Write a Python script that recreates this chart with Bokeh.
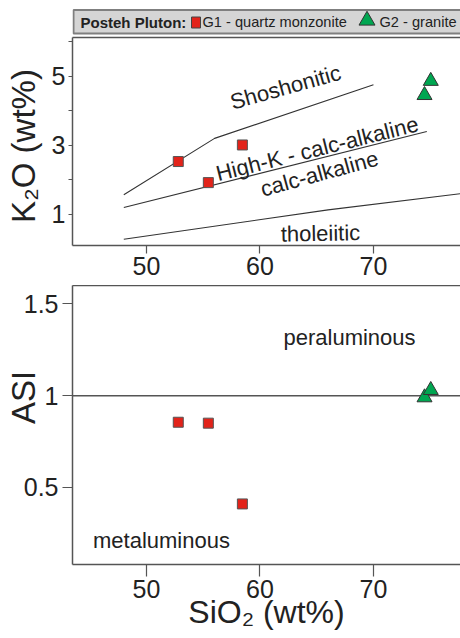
import math
from bokeh.plotting import figure
from bokeh.layouts import column
from bokeh.models import Range1d, FixedTicker, LinearAxis, NumeralTickFormatter
from bokeh.embed import file_html
from bokeh.resources import INLINE
from bokeh.core.properties import value

# ---------------- data ----------------
g1_sio2 = [52.8, 55.45, 58.45]
g1_k2o = [2.53, 1.92, 3.01]
g1_asi = [0.855, 0.85, 0.41]

g2_sio2 = [74.5, 75.05]
g2_k2o = [4.45, 4.86]
g2_asi = [0.99, 1.03]

# boundary lines (Peccerillo & Taylor)
shosh_x = [48, 56, 70]
shosh_y = [1.57, 3.2, 4.75]
highk_x = [48, 74.7]
highk_y = [1.2, 3.4]
thol_x = [48, 66, 77.7]
thol_y = [0.28, 1.13, 1.6]
asi_line = 1.0

x_ticks = [50, 60, 70]
k2o_ticks = [1, 3, 5]
k2o_minor = [2, 4, 6]
asi_ticks = [0.5, 1, 1.5]

FONT = "Liberation Sans"
TXT = "#222222"
FRAME = "#555555"
RED = "#e2231a"
GREEN = "#00a651"

X0, X1 = 43.48, 77.67

# ---------------- legend band ----------------
leg = figure(width=460, height=36, x_range=Range1d(72, 460), y_range=Range1d(36, 0),
             toolbar_location=None, output_backend="svg",
             min_border_left=72, min_border_right=0, min_border_top=0, min_border_bottom=0,
             x_axis_location=None, y_axis_location=None)
leg.grid.visible = False
leg.outline_line_color = None
leg.quad(left=73, right=470, top=9.5, bottom=33, fill_color="#d5d5d5",
         line_color="#7f7f7f", line_width=2)
leg.text(x=[80], y=[21.5], text=["Posteh Pluton:"], text_font=value(FONT),
         text_font_style="bold", text_font_size="15px", text_baseline="middle",
         text_color=TXT)
leg.rect(x=[195.5], y=[22], width=9, height=11, fill_color=RED, line_color="#444444", line_width=1)
leg.text(x=[202], y=[21.5], text=["G1 - quartz monzonite"], text_font=value(FONT),
         text_font_size="14.6px", text_baseline="middle", text_color=TXT)
leg.scatter(x=[366.5], y=[20], marker="triangle", size=16, fill_color=GREEN,
            line_color="#333333", line_width=1)
leg.text(x=[379], y=[21.5], text=["G2 - granite"], text_font=value(FONT),
         text_font_size="14.6px", text_baseline="middle", text_color=TXT)


def style_axes(p):
    p.grid.visible = False
    p.outline_line_color = None
    p.background_fill_color = "white"
    p.border_fill_color = "white"
    xa, ya = p.below[0], p.left[0]
    for ax in (xa, ya):
        ax.axis_line_color = FRAME
        ax.axis_line_width = 1.5
        ax.major_tick_line_color = FRAME
        ax.major_tick_line_width = 1.2
        ax.major_tick_in = 0
        ax.minor_tick_in = 0
        ax.minor_tick_out = 0
        ax.major_label_text_font = FONT
        ax.major_label_text_font_size = "25px"
        ax.major_label_text_color = TXT
        ax.axis_label_text_font = FONT
        ax.axis_label_text_font_style = "normal"
        ax.axis_label_text_color = TXT
    top = LinearAxis(ticker=FixedTicker(ticks=[]), axis_line_color=FRAME, axis_line_width=1.5,
                     major_tick_out=0, major_tick_in=0, minor_tick_out=0, minor_tick_in=0,
                     major_label_standoff=0, axis_label_standoff=0)
    p.add_layout(top, "above")
    return xa, ya


# ---------------- top panel: K2O vs SiO2 ----------------
p1 = figure(width=460, height=249, x_range=Range1d(X0, X1), y_range=Range1d(0.10, 6.12),
            toolbar_location=None, output_backend="svg",
            min_border_left=72, min_border_right=0, min_border_top=1, min_border_bottom=40)
xa1, ya1 = style_axes(p1)
xa1.ticker = FixedTicker(ticks=x_ticks)
xa1.major_tick_out = 8
xa1.major_label_standoff = 3
ya1.ticker = FixedTicker(ticks=k2o_ticks, minor_ticks=k2o_minor)
ya1.major_tick_out = 4
ya1.minor_tick_out = 4
ya1.minor_tick_line_color = FRAME
ya1.minor_tick_line_width = 1.2
ya1.major_label_standoff = 3
ya1.axis_label = "K₂O  (wt%)"
ya1.axis_label_text_font_size = "33px"
ya1.axis_label_standoff = 7

line_kw = dict(line_color="#333333", line_width=1.1)
p1.line(shosh_x, shosh_y, **line_kw)
p1.line(highk_x, highk_y, **line_kw)
p1.line(thol_x, thol_y, **line_kw)

region_kw = dict(text_font=value(FONT), text_font_size="22px", text_color=TXT,
                 text_align="center", text_baseline="middle")
p1.text(x=[62.25], y=[4.68], text=["Shoshonitic"], angle=0.27, **region_kw)
p1.text(x=[65.04], y=[2.90], text=["High-K - calc-alkaline"], angle=0.245, **region_kw)
p1.text(x=[65.24], y=[2.18], text=["calc-alkaline"], angle=0.265, **region_kw)
p1.text(x=[65.33], y=[0.45], text=["tholeiitic"], angle=0.02, **region_kw)

p1.scatter(g1_sio2, g1_k2o, marker="square", size=10, fill_color=RED,
           line_color="#555555", line_width=1)
p1.scatter(g2_sio2, g2_k2o, marker="triangle", size=15, fill_color=GREEN,
           line_color="#333333", line_width=1)

# ---------------- bottom panel: ASI vs SiO2 ----------------
p2 = figure(width=460, height=353, x_range=Range1d(X0, X1), y_range=Range1d(0.08, 1.6),
            toolbar_location=None, output_backend="svg",
            min_border_left=72, min_border_right=0, min_border_top=0, min_border_bottom=74)
xa2, ya2 = style_axes(p2)
xa2.ticker = FixedTicker(ticks=x_ticks)
xa2.major_tick_out = 12
xa2.major_label_standoff = 3
xa2.axis_label = "SiO₂ (wt%)"
xa2.axis_label_text_font_size = "32px"
xa2.axis_label_standoff = -7
ya2.ticker = FixedTicker(ticks=asi_ticks)
ya2.formatter = NumeralTickFormatter(format="0.[0]")
ya2.major_tick_out = 10
ya2.major_label_standoff = 4
# leading no-break spaces lift the title up towards ASI = 1, as in the original
ya2.axis_label = "\u00a0" * 6 + "ASI"
ya2.axis_label_text_font_size = "33px"
ya2.axis_label_standoff = -21

p2.line(x=[X0, X1], y=[asi_line, asi_line], line_color="#555555", line_width=1.5)

p2.text(x=[67.89], y=[1.318], text=["peraluminous"], **region_kw)
p2.text(x=[51.32], y=[0.21], text=["metaluminous"], **region_kw)

p2.scatter(g1_sio2, g1_asi, marker="square", size=10, fill_color=RED,
           line_color="#555555", line_width=1)
p2.scatter(g2_sio2, g2_asi, marker="triangle", size=15, fill_color=GREEN,
           line_color="#333333", line_width=1)

layout = column(leg, p1, p2, spacing=0)
open("out.html", "w").write(file_html(layout, INLINE))
